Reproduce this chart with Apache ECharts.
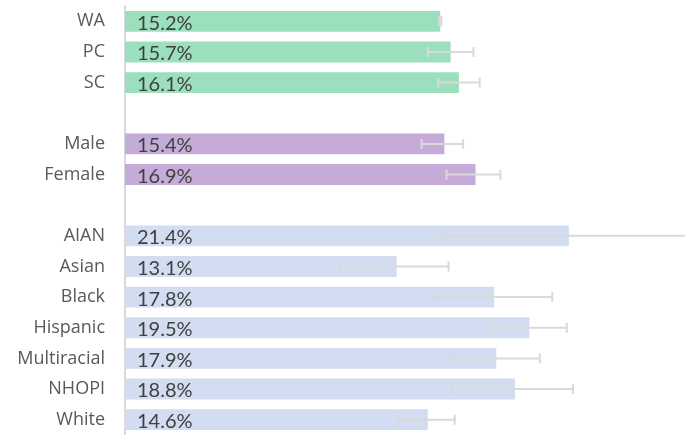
<!DOCTYPE html>
<html>
<head>
<meta charset="utf-8">
<script src="https://cdn.jsdelivr.net/npm/echarts@6/dist/echarts.min.js"></script>
<style>
html,body{margin:0;padding:0;background:#fff;}
#chart{width:685px;height:435px;}
</style>
</head>
<body>
<div id="chart"></div>
<script>
const categories = ['WA','PC','SC','','Male','Female','','AIAN','Asian','Black','Hispanic','Multiracial','NHOPI','White'];
const values = [15.2,15.7,16.1,null,15.4,16.9,null,21.4,13.1,17.8,19.5,17.9,18.8,14.6];
const lower  = [15.15,14.6,15.1,null,14.3,15.5,null,15.3,10.4,14.9,17.6,15.7,15.8,13.2];
const upper  = [15.25,16.8,17.1,null,16.3,18.1,null,28.0,15.6,20.6,21.3,20.0,21.6,15.9];
const groups = ['region','region','region',null,'sex','sex',null,'race','race','race','race','race','race','race'];

const groupColors = {region:'#9BDFBC', sex:'#C5ACD8', race:'#D2DDF1'};

const barData = values.map((v,i)=> v==null ? '-' : {value:v, itemStyle:{color:groupColors[groups[i]]}});
const errData = [];
values.forEach((v,i)=>{ if(v!=null) errData.push([i, lower[i], upper[i]]); });

const chart = echarts.init(document.getElementById('chart'));
chart.setOption({
  animation:false,
  grid:{left:125, top:6, width:560, height:433, containLabel:false},
  xAxis:{type:'value', min:0, max:27, show:false, splitLine:{show:false}},
  yAxis:{type:'category', inverse:true, data:categories,
    axisLine:{show:true, lineStyle:{color:'#d9d9d9', width:2}},
    axisTick:{show:false},
    axisLabel:{color:'#595959', fontSize:18, fontFamily:'Open Sans', margin:20}
  },
  series:[
    {type:'bar', data:barData, barCategoryGap:'32%',
      label:{show:true, position:'insideLeft', distance:12, offset:[0,2], color:'#404040', fontSize:20, fontFamily:'Lato',
        formatter:p=>p.value.toFixed(1)+'%'}
    },
    {type:'custom', data:errData, clip:true, z:5,
      renderItem:function(params, api){
        const c = api.value(0);
        const p1 = api.coord([api.value(1), c]);
        const p2 = api.coord([api.value(2), c]);
        const h = 5;
        const style = {stroke:'#d9d9d9', lineWidth:2};
        return {type:'group', children:[
          {type:'line', shape:{x1:p1[0],y1:p1[1],x2:p2[0],y2:p2[1]}, style:style},
          {type:'line', shape:{x1:p1[0],y1:p1[1]-h,x2:p1[0],y2:p1[1]+h}, style:style},
          {type:'line', shape:{x1:p2[0],y1:p2[1]-h,x2:p2[0],y2:p2[1]+h}, style:style}
        ]};
      },
      encode:{x:[1,2], y:0}
    }
  ]
});
</script>
</body>
</html>
